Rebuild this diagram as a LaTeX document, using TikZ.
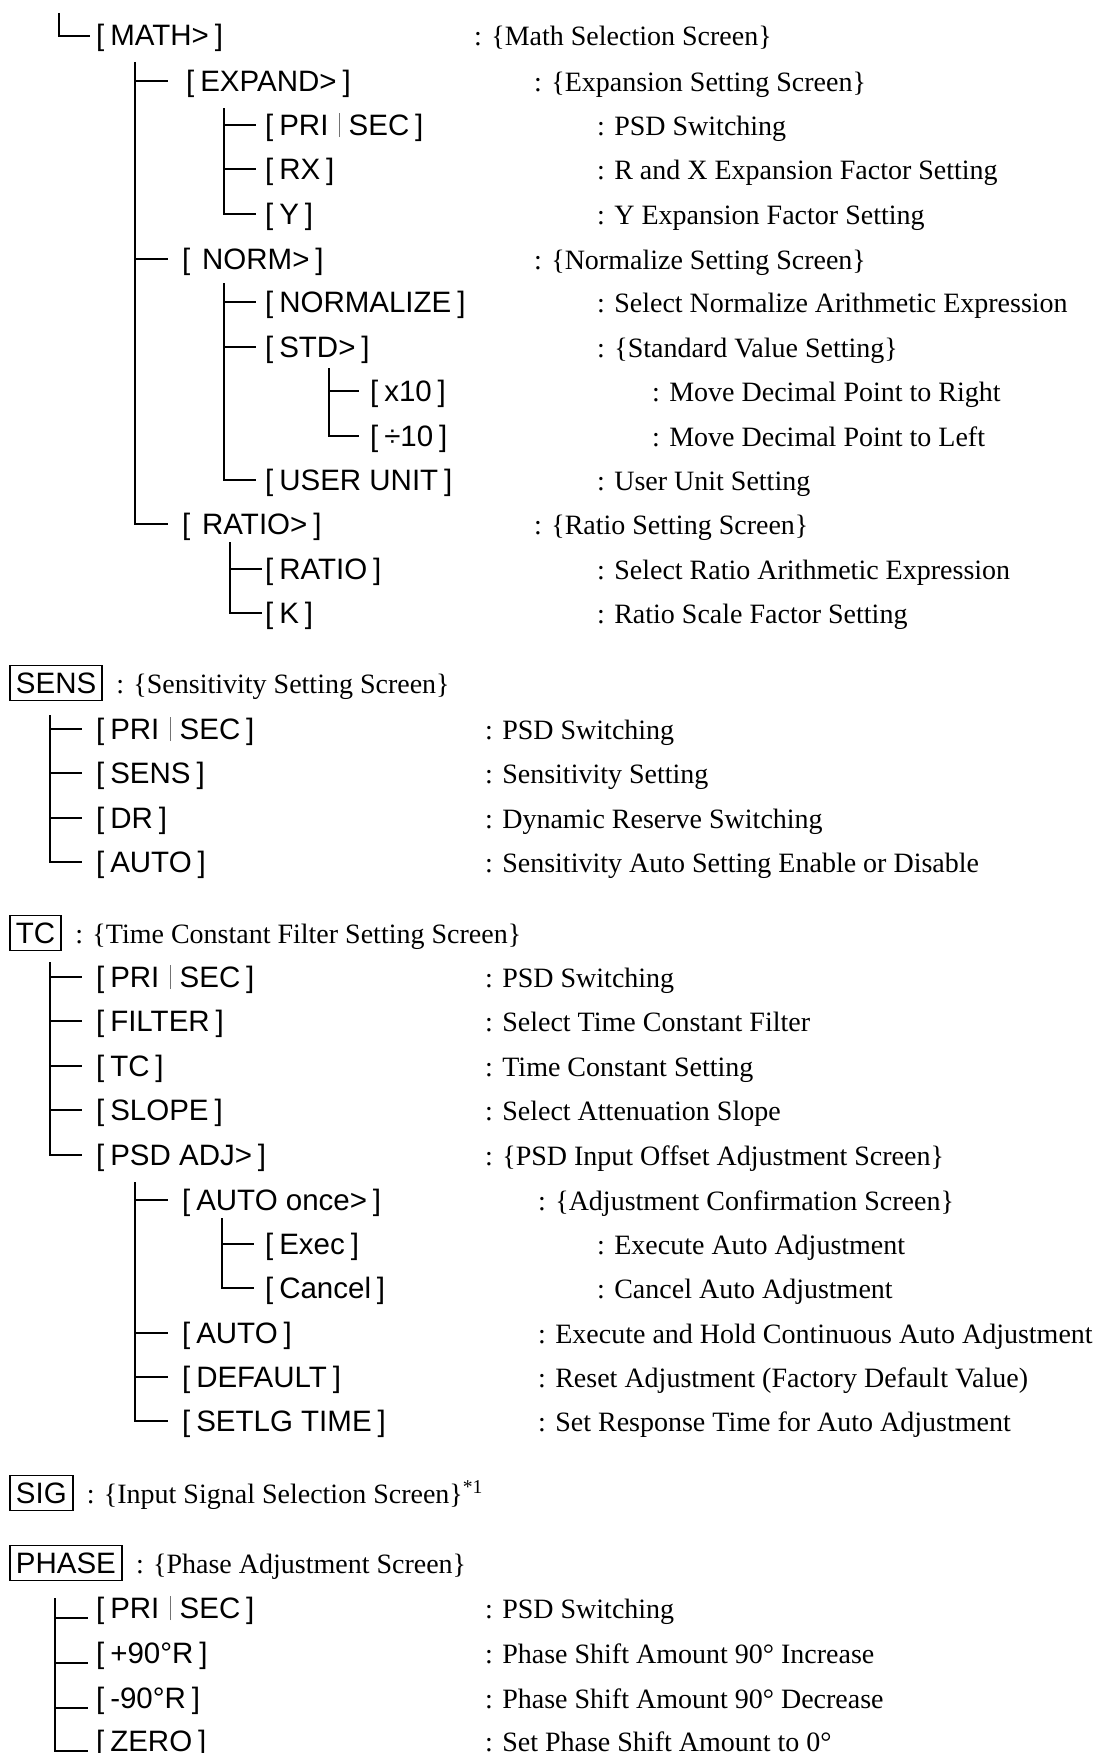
\documentclass[tikz,border=0pt]{standalone}
\usepackage{fontspec}
\setmainfont{Liberation Serif}
\newfontfamily\keyfamily{Liberation Sans}
\usepackage{tikz}
\usetikzlibrary{positioning}
\usepackage{xcolor}

\tikzset{
  key/.style={anchor=west,inner sep=0pt,text height=20pt,text depth=0pt,font=\keyfamily\fontsize{29.5}{34}\selectfont},
  desc/.style={anchor=west,inner sep=0pt,text height=20pt,text depth=0pt,font=\fontsize{28}{34}\selectfont},
  screen/.style={draw,line width=1.8pt,anchor=west,inner xsep=6pt,inner ysep=7pt,text height=21pt,text depth=0pt,font=\keyfamily\fontsize{29.5}{34}\selectfont},
  tree/.style={line width=1.6pt},
}
\newcommand\prisec{PRI\hspace{.35em}\textcolor{black!55}{\rule[-2pt]{1pt}{24pt}}\hspace{.3em}SEC}
\newcommand\bs{\hspace{.2em}}

\begin{document}
\begin{tikzpicture}[x=1pt,y=-1pt]
\useasboundingbox (0,0) rectangle (1096,1753);
% MATH menu
\node[key] (math) at (96,36) {[\bs MATH>\bs]};
\node[desc] (mathd) at (474,36) {: \{Math Selection Screen\}};
\node[key] (expand) at (186,81) {[\bs EXPAND>\bs]};
\node[desc] (expandd) at (534,81) {: \{Expansion Setting Screen\}};
\node[key] (epri) at (265,125) {[\bs\prisec\bs]};
\node[desc] (eprid) at (597,125) {: PSD Switching};
\node[key] (rx) at (265,169) {[\bs RX\bs]};
\node[desc] (rxd) at (597,169) {: R and X Expansion Factor Setting};
\node[key] (yk) at (265,214) {[\bs Y\bs]};
\node[desc] (ykd) at (597,214) {: Y Expansion Factor Setting};
\node[key] (norm) at (182,259) {[\bs\bs NORM>\bs]};
\node[desc] (normd) at (534,259) {: \{Normalize Setting Screen\}};
\node[key] (normalize) at (265,302) {[\bs NORMALIZE\bs]};
\node[desc] (normalized) at (597,302) {: Select Normalize Arithmetic Expression};
\node[key] (std) at (265,347) {[\bs STD>\bs]};
\node[desc] (stdd) at (597,347) {: \{Standard Value Setting\}};
\node[key] (xten) at (370,391) {[\bs x10\bs]};
\node[desc] (xtend) at (652,391) {: Move Decimal Point to Right};
\node[key] (dten) at (370,436) {[\bs ÷10\bs]};
\node[desc] (dtend) at (652,436) {: Move Decimal Point to Left};
\node[key] (unit) at (265,480) {[\bs USER UNIT\bs]};
\node[desc] (unitd) at (597,480) {: User Unit Setting};
\node[key] (ratiom) at (182,524) {[\bs\bs RATIO>\bs]};
\node[desc] (ratiomd) at (534,524) {: \{Ratio Setting Screen\}};
\node[key] (ratio) at (265,569) {[\bs RATIO\bs]};
\node[desc] (ratiod) at (597,569) {: Select Ratio Arithmetic Expression};
\node[key] (kk) at (265,613) {[\bs K\bs]};
\node[desc] (kkd) at (597,613) {: Ratio Scale Factor Setting};

\coordinate (t0) at (59,13);
\draw[tree] (t0) |- ([xshift=-6pt]math.west);
\coordinate (m0) at (135,62);
\draw[tree] (m0) |- ([xshift=-14pt]ratiom.west);
\draw[tree] (m0 |- norm.west) -- ([xshift=-14pt]norm.west);
\draw[tree] (m0 |- expand.west) -- ([xshift=-18pt]expand.west);
\coordinate (e0) at (224,108);
\draw[tree] (e0) |- ([xshift=-9pt]yk.west);
\foreach \n in {epri,rx} \draw[tree] (e0 |- \n.west) -- ([xshift=-9pt]\n.west);
\coordinate (n0) at (224,283);
\draw[tree] (n0) |- ([xshift=-9pt]unit.west);
\foreach \n in {normalize,std} \draw[tree] (n0 |- \n.west) -- ([xshift=-9pt]\n.west);
\coordinate (s0) at (329,368);
\draw[tree] (s0) |- ([xshift=-11pt]dten.west);
\draw[tree] (s0 |- xten.west) -- ([xshift=-11pt]xten.west);
\coordinate (r0) at (230,542);
\draw[tree] (r0) |- ([xshift=-3pt]kk.west);
\draw[tree] (r0 |- ratio.west) -- ([xshift=-3pt]ratio.west);

% SENS menu
\node[screen] (sens) at (9,683) {SENS};
\node[desc,right=13pt of sens] (sensd) {: \{Sensitivity Setting Screen\}};
\node[key] (spri) at (96,729) {[\bs\prisec\bs]};
\node[desc] (sprid) at (485,729) {: PSD Switching};
\node[key] (ssens) at (96,773) {[\bs SENS\bs]};
\node[desc] (ssensd) at (485,773) {: Sensitivity Setting};
\node[key] (sdr) at (96,818) {[\bs DR\bs]};
\node[desc] (sdrd) at (485,818) {: Dynamic Reserve Switching};
\node[key] (sauto) at (96,862) {[\bs AUTO\bs]};
\node[desc] (sautod) at (485,862) {: Sensitivity Auto Setting Enable or Disable};
\coordinate (c0) at (50,715);
\draw[tree] (c0) |- ([xshift=-14pt]sauto.west);
\foreach \n in {spri,ssens,sdr} \draw[tree] (c0 |- \n.west) -- ([xshift=-14pt]\n.west);

% TC menu
\node[screen] (tc) at (9,933) {TC};
\node[desc,right=13pt of tc] (tcd) {: \{Time Constant Filter Setting Screen\}};
\node[key] (tpri) at (96,977) {[\bs\prisec\bs]};
\node[desc] (tprid) at (485,977) {: PSD Switching};
\node[key] (filter) at (96,1021) {[\bs FILTER\bs]};
\node[desc] (filterd) at (485,1021) {: Select Time Constant Filter};
\node[key] (ttc) at (96,1066) {[\bs TC\bs]};
\node[desc] (ttcd) at (485,1066) {: Time Constant Setting};
\node[key] (slope) at (96,1110) {[\bs SLOPE\bs]};
\node[desc] (sloped) at (485,1110) {: Select Attenuation Slope};
\node[key] (psdadj) at (96,1155) {[\bs PSD ADJ>\bs]};
\node[desc] (psdadjd) at (485,1155) {: \{PSD Input Offset Adjustment Screen\}};
\node[key] (once) at (182,1200) {[\bs AUTO once>\bs]};
\node[desc] (onced) at (538,1200) {: \{Adjustment Confirmation Screen\}};
\node[key] (exec) at (265,1244) {[\bs Exec\bs]};
\node[desc] (execd) at (597,1244) {: Execute Auto Adjustment};
\node[key] (cancel) at (265,1288) {[\bs Cancel\bs]};
\node[desc] (canceld) at (597,1288) {: Cancel Auto Adjustment};
\node[key] (tauto) at (182,1333) {[\bs AUTO\bs]};
\node[desc] (tautod) at (538,1333) {: Execute and Hold Continuous Auto Adjustment};
\node[key] (default) at (182,1377) {[\bs DEFAULT\bs]};
\node[desc] (defaultd) at (538,1377) {: Reset Adjustment (Factory Default Value)};
\node[key] (setlg) at (182,1421) {[\bs SETLG TIME\bs]};
\node[desc] (setlgd) at (538,1421) {: Set Response Time for Auto Adjustment};
\coordinate (c1) at (50,962);
\draw[tree] (c1) |- ([xshift=-14pt]psdadj.west);
\foreach \n in {tpri,filter,ttc,slope} \draw[tree] (c1 |- \n.west) -- ([xshift=-14pt]\n.west);
\coordinate (a0) at (135,1182);
\draw[tree] (a0) |- ([xshift=-14pt]setlg.west);
\foreach \n in {once,tauto,default} \draw[tree] (a0 |- \n.west) -- ([xshift=-14pt]\n.west);
\coordinate (o0) at (222,1218);
\draw[tree] (o0) |- ([xshift=-11pt]cancel.west);
\draw[tree] (o0 |- exec.west) -- ([xshift=-11pt]exec.west);

% SIG
\node[screen] (sig) at (9,1493) {SIG};
\node[desc,right=13pt of sig] (sigd) {: \{Input Signal Selection Screen\}\textsuperscript{*1}};

% PHASE menu
\node[screen] (phase) at (9,1563) {PHASE};
\node[desc,right=13pt of phase] (phased) {: \{Phase Adjustment Screen\}};
\node[key] (ppri) at (96,1608) {[\bs\prisec\bs]};
\node[desc] (pprid) at (485,1608) {: PSD Switching};
\node[key] (pplus) at (96,1653) {[\bs +90°R\bs]};
\node[desc] (pplusd) at (485,1653) {: Phase Shift Amount 90° Increase};
\node[key] (pminus) at (96,1698) {[\bs -90°R\bs]};
\node[desc] (pminusd) at (485,1698) {: Phase Shift Amount 90° Decrease};
\node[key] (zero) at (96,1741) {[\bs ZERO\bs]};
\node[desc] (zerod) at (485,1741) {: Set Phase Shift Amount to 0°};
\coordinate (p0) at (55,1598);
\draw[tree] (p0) |- ([xshift=-8pt]zero.south west);
\foreach \n in {ppri,pplus,pminus} \draw[tree] (p0 |- \n.south west) -- ([xshift=-8pt]\n.south west);
\end{tikzpicture}
\end{document}
